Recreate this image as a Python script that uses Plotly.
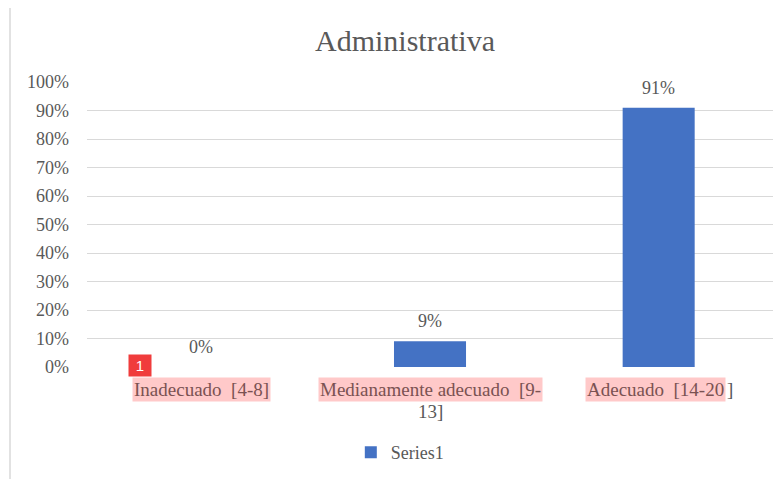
import plotly.graph_objects as go

categories = ["Inadecuado  [4-8]", "Medianamente adecuado  [9-13]", "Adecuado  [14-20]"]
values = [0.0, 0.09, 0.91]
value_labels = ["0%", "9%", "91%"]
series_name = "Series1"
title_text = "Administrativa"
y_ticks = [0, 0.1, 0.2, 0.3, 0.4, 0.5, 0.6, 0.7, 0.8, 0.9, 1.0]
y_tick_labels = ["0%", "10%", "20%", "30%", "40%", "50%", "60%", "70%", "80%", "90%", "100%"]
# category label lines as displayed (wrapped)
label_line1 = ["Inadecuado  [4-8]", "Medianamente adecuado  [9-", "Adecuado  [14-20"]
label_line1_tail = ["", "", "]"]
label_line2 = ["", "13]", ""]

FONT = "Liberation Serif, Times New Roman, serif"
GRAY = "#595959"
HL_TEXT = "#7a5252"
PINK = "#ffc9c9"

W, H = 773, 471
L, R, T, B = 79, 8, 74, 112
PW = W - L - R
PH = H - T - B

fig = go.Figure()
fig.add_trace(go.Bar(
    x=categories, y=values, name=series_name,
    marker=dict(color="#4472c4", line=dict(width=0)),
    width=0.315,
    showlegend=True,
))

annotations = []
for cat, v, lab in zip(categories, values, value_labels):
    annotations.append(dict(
        x=cat, xref="x", y=v, yref="y", yanchor="middle", yshift=20,
        text=lab, showarrow=False,
        font=dict(family=FONT, size=18, color=GRAY),
    ))

for cat, l1, tail, l2 in zip(categories, label_line1, label_line1_tail, label_line2):
    annotations.append(dict(
        x=cat, xref="x", y=0, yref="paper", yanchor="middle", yshift=-22,
        text=l1, showarrow=False, bgcolor=PINK, borderpad=1,
        font=dict(family=FONT, size=19, color=HL_TEXT),
        xshift=-3 if tail else 0,
    ))
    if tail:
        annotations.append(dict(
            x=cat, xref="x", y=0, yref="paper", yanchor="middle", yshift=-22,
            xshift=71, text=tail, showarrow=False,
            font=dict(family=FONT, size=19, color=GRAY),
        ))
    if l2:
        annotations.append(dict(
            x=cat, xref="x", y=0, yref="paper", yanchor="middle", yshift=-44,
            text=l2, showarrow=False,
            font=dict(family=FONT, size=19, color=GRAY),
        ))

# red badge
annotations.append(dict(
    x=categories[0], xref="x", y=0, yref="paper", yanchor="middle", yshift=2, xshift=-61,
    text="1", showarrow=False, bgcolor="#f03c3c", borderpad=1, width=20, height=19,
    font=dict(family="Liberation Sans, Arial, sans-serif", size=15, color="white"),
))

fig.update_layout(
    width=W, height=H,
    margin=dict(l=L, r=R, t=T, b=B),
    paper_bgcolor="white", plot_bgcolor="white",
    title=dict(text=title_text, x=397 / W, xanchor="center", y=1 - 32 / H, yanchor="middle",
               yref="container", font=dict(family=FONT, size=30, color=GRAY)),
    xaxis=dict(showticklabels=False, showgrid=False, zeroline=False, showline=False, ticks=""),
    yaxis=dict(range=[0, 1.0], tickvals=y_ticks, ticktext=y_tick_labels,
               showgrid=True, gridcolor="#d9d9d9", gridwidth=1, zeroline=False,
               ticklabelstandoff=17,
               tickfont=dict(family=FONT, size=18, color=GRAY), showline=False),
    legend=dict(orientation="h", x=0.456, xanchor="center", y=-0.30, yanchor="middle",
                font=dict(family=FONT, size=18, color=GRAY)),
    annotations=annotations,
    shapes=[dict(type="line", xref="paper", yref="paper",
                 x0=(2 - L) / PW, x1=(2 - L) / PW,
                 y0=(PH + T - H - 5) / PH, y1=(PH + T) / PH,
                 line=dict(color="#d9d9d9", width=1.5), layer="below")],
    bargap=0.5,
)

fig.write_html("out.html")
